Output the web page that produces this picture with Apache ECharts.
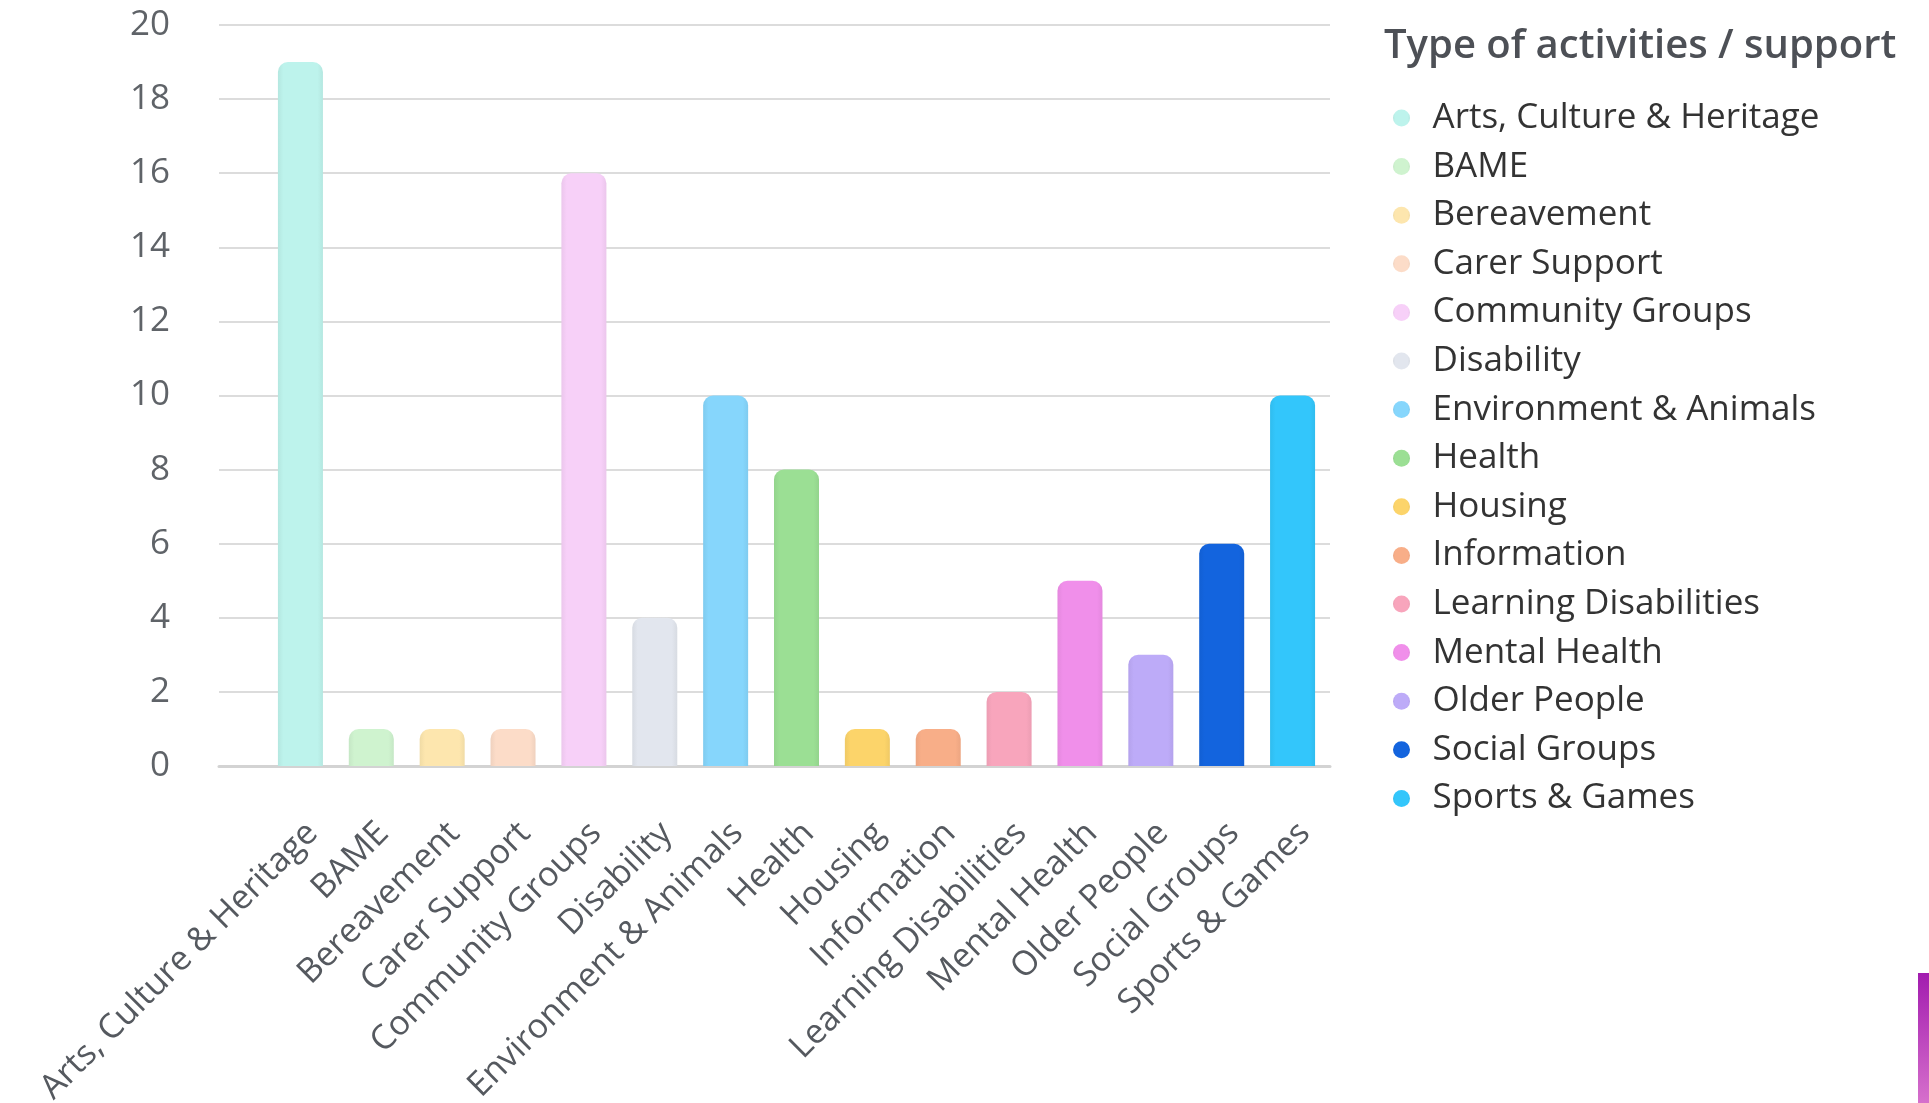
<!DOCTYPE html>
<html>
<head>
<meta charset="utf-8">
<script src="https://cdn.jsdelivr.net/npm/echarts@6/dist/echarts.min.js"></script>
<style>
	html, body { margin: 0; padding: 0; background: #fff; }
	#chart { width: 1929px; height: 1103px; }
</style>
</head>
<body>
<div id="chart"></div>
<script>
let categories = ['Arts, Culture & Heritage', 'BAME', 'Bereavement', 'Carer Support', 'Community Groups',
	'Disability', 'Environment & Animals', 'Health', 'Housing', 'Information', 'Learning Disabilities',
	'Mental Health', 'Older People', 'Social Groups', 'Sports & Games'
];
let counts = [19, 1, 1, 1, 16, 4, 10, 8, 1, 1, 2, 5, 3, 6, 10];
let colors = ['#bdf3ec', '#cff3cf', '#fde6ae', '#fcdcc8', '#f7d0f8', '#e2e6ee', '#86d6fc', '#9bdf94',
	'#fcd46a', '#f8ae88', '#f8a5bc', '#f08fea', '#bdabf8', '#1364de', '#33c6fb'
];
let yTicks = [0, 20, 2]; // min, max, step

function shade(hex, f) {
	let n = parseInt(hex.slice(1), 16);
	let r = Math.round(((n >> 16) & 255) * f);
	let g = Math.round(((n >> 8) & 255) * f);
	let b = Math.round((n & 255) * f);
	return 'rgb(' + r + ',' + g + ',' + b + ')';
}

let font = 'Open Sans';
let myChart = echarts.init(document.getElementById('chart'));

let series = categories.map(function(name, i) {
	let data = categories.map(function(c, j) {
		return j === i ? counts[i] : '-';
	});
	let edge = shade(colors[i], 0.95);
	return {
		name: name,
		type: 'bar',
		xAxisIndex: 1,
		yAxisIndex: 1,
		data: data,
		barWidth: 45,
		barGap: '-100%',
		itemStyle: {
			borderRadius: [10, 10, 0, 0],
			color: new echarts.graphic.LinearGradient(0, 0, 1, 0, [
				{ offset: 0, color: edge },
				{ offset: 0.12, color: colors[i] },
				{ offset: 0.88, color: colors[i] },
				{ offset: 1, color: edge }
			])
		},
		emphasis: { disabled: true }
	};
});

let option = {
	color: colors,
	animation: false,
	title: {
		text: 'Type of activities / support',
		left: 1384,
		top: 24,
		padding: 0,
		textStyle: {
			fontFamily: font,
			fontSize: 40,
			fontWeight: 600,
			color: '#4d5056',
			lineHeight: 46
		}
	},
	legend: {
		orient: 'vertical',
		left: 1393,
		top: 98,
		padding: 0,
		icon: 'circle',
		itemWidth: 52,
		itemHeight: 17,
		itemGap: 8.6,
		data: categories,
		textStyle: {
			fontFamily: font,
			fontSize: 35,
			color: '#333333',
			lineHeight: 40
		}
	},
	grid: [
		// background: gridlines, y labels and base line
		{ left: 219, right: 599, top: 25, bottom: 337, containLabel: false, outerBoundsMode: 'none' },
		// bars
		{ left: 265, right: 601, top: 25, bottom: 337, containLabel: false, outerBoundsMode: 'none' }
	],
	xAxis: [{
		gridIndex: 0,
		type: 'value',
		min: 0,
		max: 1,
		splitLine: { show: false },
		axisTick: { show: false },
		axisLabel: { show: false },
		axisLine: { show: true, onZero: false, lineStyle: { color: '#d3d3d3', width: 3 } }
	}, {
		gridIndex: 1,
		type: 'category',
		data: categories,
		axisTick: { show: false },
		axisLine: { show: false },
		axisLabel: {
			rotate: 45,
			interval: 0,
			margin: 50,
			verticalAlign: 'top',
			fontFamily: font,
			fontSize: 34,
			color: '#55595f'
		}
	}],
	yAxis: [{
		gridIndex: 0,
		type: 'value',
		min: yTicks[0],
		max: yTicks[1],
		interval: yTicks[2],
		axisLine: { show: false },
		axisTick: { show: false },
		splitLine: { lineStyle: { color: '#dcdcdc', width: 2 } },
		axisLabel: {
			margin: 49,
			fontFamily: font,
			fontSize: 35,
			color: '#5f6368'
		}
	}, {
		gridIndex: 1,
		type: 'value',
		min: yTicks[0],
		max: yTicks[1],
		interval: yTicks[2],
		show: false
	}],
	graphic: [{
		type: 'rect',
		right: 0,
		bottom: 0,
		shape: { width: 11, height: 130 },
		style: {
			fill: new echarts.graphic.LinearGradient(0, 0, 0, 1, [
				{ offset: 0, color: '#a21caf' },
				{ offset: 1, color: '#d670cc' }
			])
		},
		silent: true
	}],
	series: series
};
myChart.setOption(option);
</script>
</body>
</html>
